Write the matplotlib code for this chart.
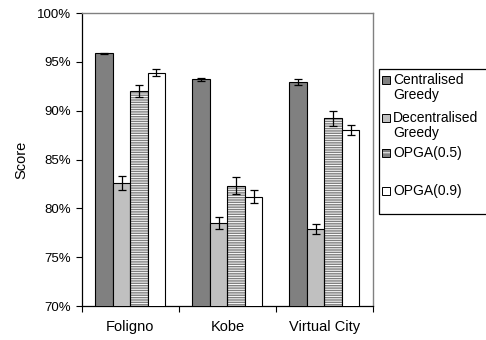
import numpy as np
import matplotlib
matplotlib.use("Agg")
import matplotlib.pyplot as plt
from matplotlib.patches import Rectangle
from matplotlib.ticker import FuncFormatter

plt.rcParams['font.family'] = ['Liberation Sans', 'DejaVu Sans']
plt.rcParams['hatch.linewidth'] = 0.7

# data
cities = ["Foligno", "Kobe", "Virtual City"]
series = ["Centralised\nGreedy", "Decentralised\nGreedy", "OPGA(0.5)", "OPGA(0.9)"]
scores = [
    [95.9, 93.2, 92.9],   # centralised greedy
    [82.6, 78.5, 77.9],   # decentralised greedy
    [92.0, 82.3, 89.2],   # OPGA(0.5)
    [93.9, 81.2, 88.0],   # OPGA(0.9)
]
errors = [
    [0.05, 0.19, 0.30],
    [0.68, 0.60, 0.48],
    [0.65, 0.87, 0.72],
    [0.34, 0.68, 0.53],
]
yticks = [70, 75, 80, 85, 90, 95, 100]

faces = ["#808080", "#c0c0c0", "#808080", "#ffffff"]
hatches = [None, None, "-------", None]

W, H = 486, 340
fig = plt.figure(figsize=(W / 100, H / 100), dpi=100)
ax = fig.add_axes([81.7 / W, 1 - 306 / H, (373 - 81.7) / W, (306 - 13) / H])

x = np.arange(len(cities)) + 0.5
bw = 0.18
for k in range(len(series)):
    pos = x + (k - 1.5) * bw
    if hatches[k]:
        ax.bar(pos, scores[k], bw, bottom=0, color=faces[k], edgecolor="white",
               hatch=hatches[k], linewidth=0, zorder=2)
        ax.bar(pos, scores[k], bw, fill=False, edgecolor="black", linewidth=0.8, zorder=3)
    else:
        ax.bar(pos, scores[k], bw, color=faces[k], edgecolor="black", linewidth=0.8, zorder=3)
    ax.errorbar(pos, scores[k], yerr=errors[k], fmt="none", ecolor="black",
                elinewidth=0.9, capsize=3, capthick=0.9, zorder=4)

ax.set_xlim(0, 3)
ax.set_ylim(70, 100)
ax.set_yticks(yticks)
ax.yaxis.set_major_formatter(FuncFormatter(lambda v, p: "%d%%" % v))
ax.set_xticks([0, 1, 2, 3])
ax.set_xticklabels([])
ax.set_xticks(x, minor=True)
ax.set_xticklabels(cities, minor=True, fontsize=10.5)
ax.tick_params(axis="x", which="minor", length=0, pad=10)
ax.tick_params(axis="x", which="major", direction="out", length=4, width=0.8)
ax.tick_params(axis="y", direction="out", length=4, width=0.8, labelsize=9.5, pad=4)
ax.set_ylabel("Score", fontsize=10.5, labelpad=6)

for s in ["top", "right"]:
    ax.spines[s].set_color("#808080")
    ax.spines[s].set_linewidth(1.0)
for s in ["left", "bottom"]:
    ax.spines[s].set_color("black")
    ax.spines[s].set_linewidth(0.9)

# legend drawn by hand, Excel style
def fx(px):
    return px / W

def fy(py):
    return 1 - py / H

fig.add_artist(Rectangle((fx(379), fy(214)), fx(120), (214 - 69) / H, transform=fig.transFigure,
                         facecolor="white", edgecolor="black", linewidth=0.9))
label_y = [80, 118, 153, 191]
for k, lab in enumerate(series):
    yy = label_y[k]
    if hatches[k]:
        fig.add_artist(Rectangle((fx(382), fy(yy + 4)), fx(8), 8 / H, transform=fig.transFigure,
                                 facecolor=faces[k], edgecolor="white", hatch="---", linewidth=0))
        fig.add_artist(Rectangle((fx(382), fy(yy + 4)), fx(8), 8 / H, transform=fig.transFigure,
                                 fill=False, edgecolor="black", linewidth=0.7))
    else:
        fig.add_artist(Rectangle((fx(382), fy(yy + 4)), fx(8), 8 / H, transform=fig.transFigure,
                                 facecolor=faces[k], edgecolor="black", linewidth=0.7))
    fig.text(fx(393), fy(yy - 7), lab, ha="left", va="top", fontsize=10, linespacing=1.1)

fig.savefig("out.png", dpi=100)
